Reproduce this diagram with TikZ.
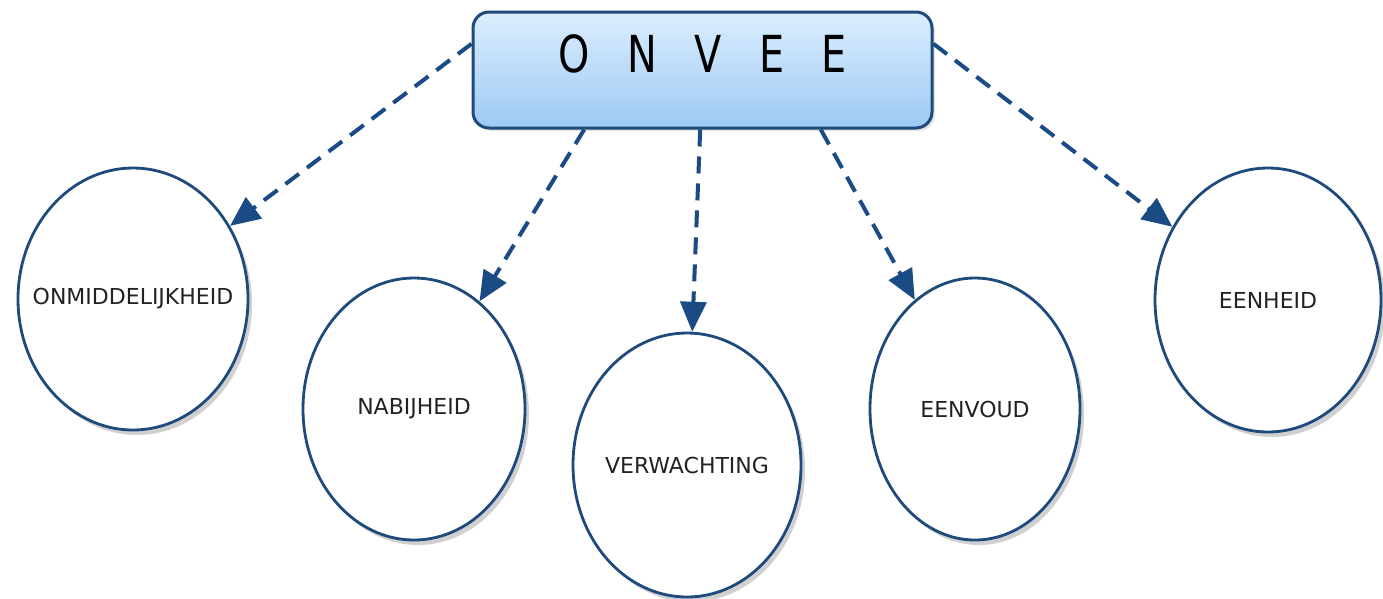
\documentclass[tikz,border=0pt]{standalone}
\usepackage{fontspec}
\setmainfont{DejaVu Sans}
\usetikzlibrary{shapes.geometric,arrows.meta,shadows,calc}
\definecolor{arrowblue}{HTML}{1B4B85}
\definecolor{rimblue}{HTML}{1F4A7C}
\definecolor{boxtop}{HTML}{DCEEFE}
\definecolor{boxbot}{HTML}{9CC9F4}
\definecolor{txtgray}{HTML}{222222}
\tikzset{
  bubble/.style={ellipse, draw=rimblue, line width=2.8pt, fill=white, inner sep=0pt,
    font=\fontsize{22}{24}\selectfont, text=txtgray,
    drop shadow={opacity=0.3, shadow xshift=4pt, shadow yshift=-5pt, fill=black!60}},
  headbox/.style={rounded corners=16pt, draw=rimblue, line width=3pt,
    top color=boxtop, bottom color=boxbot, minimum width=459pt, minimum height=116pt,
    drop shadow={opacity=0.2, shadow xshift=3pt, shadow yshift=-3pt}},
  link/.style={draw=arrowblue, line width=4pt, dash pattern=on 17pt off 10pt,
    -{Triangle[length=30pt,width=26pt]}}
}
\begin{document}
\begin{tikzpicture}[x=1pt,y=-1pt]
\fill[white] (0,0) rectangle (1383,598);
\useasboundingbox (0,0) rectangle (1383,598);

\node[headbox] (box) at (702.5,70) {};
\node[font=\fontsize{51}{55}\selectfont, text=black, inner sep=0pt] (title) at (703,54)
  {\scalebox{0.78}[1]{\spaceskip=48pt O N V E E}};

\node[bubble, minimum width=230pt, minimum height=262pt] (e1) at (133,299) {\makebox[0pt]{ONMIDDELIJKHEID}};
\node[bubble, minimum width=222pt, minimum height=262pt] (e2) at (414,409) {\makebox[0pt]{NABIJHEID}};
\node[bubble, minimum width=228pt, minimum height=264pt] (e3) at (687,465) {\makebox[0pt]{VERWACHTING}};
\node[bubble, minimum width=210pt, minimum height=262pt] (e4) at (975,409) {\makebox[0pt]{EENVOUD}};
\node[bubble, minimum width=226pt, minimum height=264pt] (e5) at (1268,300) {\makebox[0pt]{EENHEID}};

\coordinate (s1) at ($(box.north west)!0.28!(box.south west)$);
\coordinate (s2) at ($(box.south west)!0.244!(box.south east)$);
\coordinate (s3) at ($(box.south west)!0.495!(box.south east)$);
\coordinate (s4) at ($(box.south west)!0.756!(box.south east)$);
\coordinate (s5) at ($(box.north east)!0.28!(box.south east)$);

\draw[link] (s1) -- (e1);
\draw[link] (s2) -- (e2);
\draw[link] (s3) -- (e3);
\draw[link] (s4) -- (e4);
\draw[link] (s5) -- (e5);
\end{tikzpicture}
\end{document}
